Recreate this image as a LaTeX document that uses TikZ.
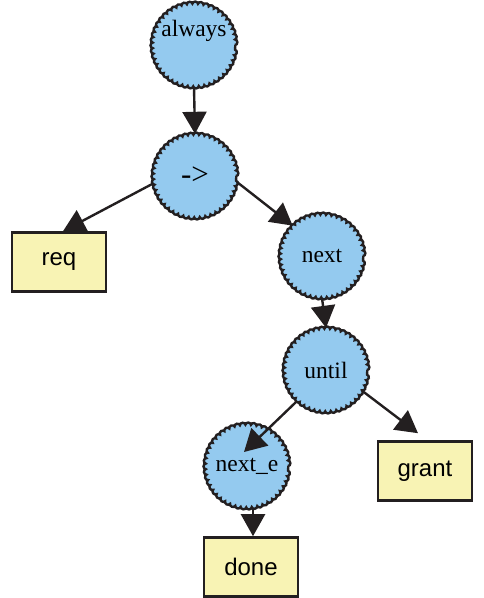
\documentclass[tikz,border=0pt]{standalone}
\usepackage{fontspec}
\setmainfont{Liberation Serif}
\setsansfont{Liberation Sans}
\usetikzlibrary{arrows.meta,calc,decorations.pathmorphing}
\definecolor{opfill}{RGB}{148,202,239}
\definecolor{leaffill}{RGB}{248,243,180}
\definecolor{ink}{RGB}{35,31,32}
\begin{document}
\begin{tikzpicture}[x=1pt,y=-1pt,
  opfont/.style={font=\fontsize{23.5}{26}\selectfont},
  opnode/.style={circle,draw=ink,line width=2.4pt,fill=opfill,minimum size=82pt,inner sep=0pt,
    decorate,decoration={bumps,segment length=11pt,amplitude=-2.4pt},opfont},
  leafnode/.style={rectangle,draw=ink,line width=2.6pt,fill=leaffill,
    minimum width=94pt,minimum height=59pt,inner sep=0pt,
    font=\sffamily\fontsize{24}{26}\selectfont},
  edge/.style={draw=ink,line width=2.4pt,-{Triangle[length=22pt,width=24pt]}}]
\useasboundingbox (0,0) rectangle (483,598);

% operator nodes
\node[opnode] (always) at (194,45) {};
\node[opfont] (alwayslbl) at (194,31) {always};
\node[opnode,font=\fontsize{31}{33}\selectfont] (op) at (195,176) {->};
\node[opnode] (next)  at (322,256) {next};
\node[opnode] (until) at (326,370) {until};
\node[opnode] (nexte) at (247,466) {next\_e};

% leaf nodes
\node[leafnode] (req)   at (59,262)  {req};
\node[leafnode] (grant) at (425,471) {grant};
\node[leafnode] (done)  at (251,567) {done};

% connectors
\path[edge] (always.south) -- (op.north);
\path[edge] (op.190) -- ($(req.north)+(4,0)$);
\path[edge] (op.-8) -- (next.134);
\path[edge] (next.south) -- (until.north);
\path[edge] (until.-30) -- ($(grant.north)+(-7,-7)$);
\path[edge] (until.-133) -- ($(nexte.center)+(-3,-14)$);
\path[edge] ($(nexte.south)+(6,0)$) -- ($(done.north)+(2,0)$);
\end{tikzpicture}
\end{document}
